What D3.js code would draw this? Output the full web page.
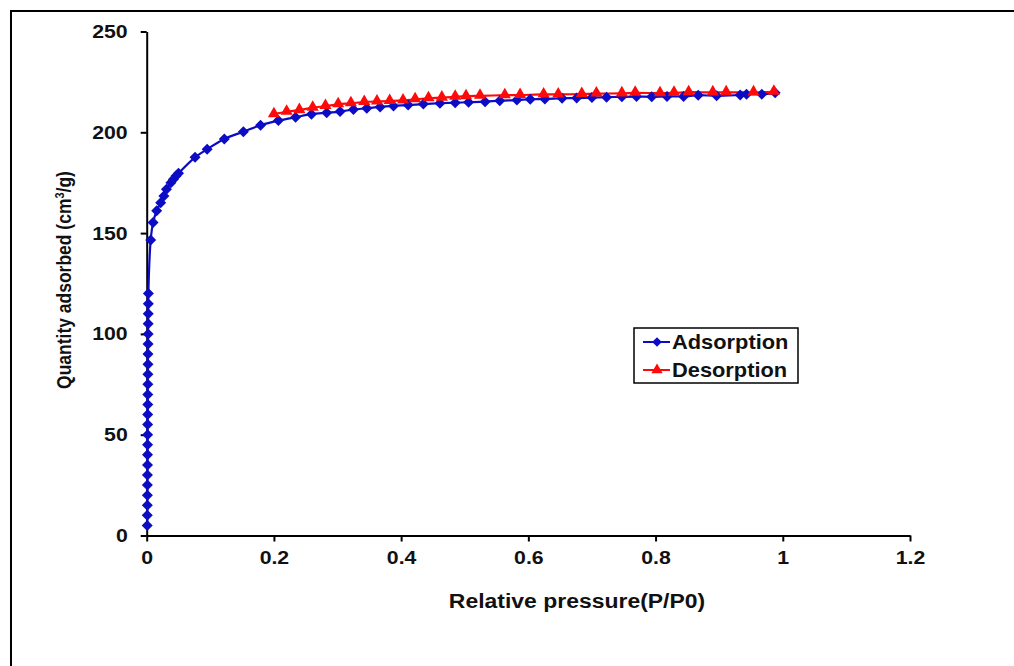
<!DOCTYPE html>
<html>
<head>
<meta charset="utf-8">
<script src="https://cdn.jsdelivr.net/npm/d3@7"></script>
<style>
  html, body { margin: 0; padding: 0; background: #fff; }
  svg { display: block; }
  text { font-family: "Liberation Sans", Arial, sans-serif; font-weight: bold; fill: #111; }
</style>
</head>
<body>
<svg id="chart" width="1014" height="666"></svg>
<script>
// Nitrogen isotherm: relative pressure (P/P0) and quantity adsorbed (cm3/g)
const adsorptionP = [
  0.0008, 0.0009, 0.0010, 0.0011, 0.0011, 0.0012, 0.0013, 0.0013, 0.0014, 0.0015,
  0.0015, 0.0016, 0.0017, 0.0017, 0.0018, 0.0019, 0.0020, 0.0020, 0.0021, 0.0022,
  0.0023, 0.0024, 0.0025, 0.0026,
  0.0063, 0.0100, 0.0157, 0.0220, 0.0270, 0.0310, 0.0380, 0.0420, 0.0460, 0.0500,
  0.076, 0.095, 0.122, 0.152, 0.179, 0.207, 0.234, 0.259, 0.283, 0.304,
  0.325, 0.346, 0.367, 0.388, 0.411, 0.435, 0.461, 0.485, 0.506, 0.532,
  0.555, 0.582, 0.603, 0.626, 0.653, 0.676, 0.700, 0.723, 0.747, 0.770,
  0.794, 0.818, 0.844, 0.867, 0.896, 0.933, 0.943, 0.967, 0.988
];
const adsorptionQ = [
  5, 10, 15, 20, 25, 30, 35, 40, 45, 50,
  55, 60, 65, 70, 75, 80, 85, 90, 95, 100,
  105, 110, 115, 120,
  146.6, 155.2, 161.1, 165.1, 168.4, 171.7, 175.0, 176.7, 178.3, 179.7,
  187.6, 191.6, 196.7, 200.3, 203.5, 205.8, 207.5, 209.0, 209.7, 210.3,
  211.3, 211.9, 212.6, 213.1, 213.5, 214.0, 214.4, 214.7, 214.9, 215.2,
  215.7, 216.0, 216.4, 216.5, 216.9, 217.0, 217.2, 217.4, 217.6, 217.7,
  217.6, 217.8, 217.8, 218.4, 218.1, 218.5, 218.9, 218.9, 219.6
];
const desorptionP = [
  0.986, 0.954, 0.911, 0.890, 0.852, 0.829, 0.807, 0.768, 0.747, 0.707,
  0.684, 0.647, 0.624, 0.587, 0.563, 0.524, 0.502, 0.485, 0.464, 0.443,
  0.422, 0.403, 0.382, 0.362, 0.342, 0.321, 0.301, 0.281, 0.261, 0.240,
  0.220, 0.200
];
const desorptionQ = [
  220.1, 219.8, 219.8, 219.8, 219.9, 219.6, 219.4, 219.6, 219.3, 219.2,
  219.0, 218.8, 218.8, 218.5, 218.4, 218.1, 217.9, 217.6, 217.2, 216.9,
  216.4, 215.8, 215.5, 215.3, 215.0, 214.4, 213.9, 213.0, 212.2, 211.0,
  210.2, 209.0
];
const xTicks = [0, 0.2, 0.4, 0.6, 0.8, 1, 1.2];
const yTicks = [0, 50, 100, 150, 200, 250];
const seriesNames = ["Adsorption", "Desorption"];

const BLUE = "#0c0cc4";
const RED = "#ff0a0a";
const STRETCH = 1.12; // glyphs are drawn slightly wide

const svg = d3.select("#chart");
svg.append("rect").attr("width", 1014).attr("height", 666).attr("fill", "#fff");
// outer frame (runs off the right and bottom edges)
svg.append("rect").attr("x", 11).attr("y", 11).attr("width", 1040).attr("height", 700)
  .attr("fill", "none").attr("stroke", "#000").attr("stroke-width", 2);

const x = d3.scaleLinear().domain([0, 1.2]).range([146.7, 910]);
const y = d3.scaleLinear().domain([0, 250]).range([535.5, 31.5]);

// axes
const gx = svg.append("g").attr("transform", `translate(0,${y(0)})`)
  .call(d3.axisBottom(x).tickValues(xTicks).tickSize(6).tickSizeOuter(0).tickPadding(9)
    .tickFormat(d => String(d)));
const gy = svg.append("g").attr("transform", `translate(${x(0)},0)`)
  .call(d3.axisLeft(y).tickValues(yTicks).tickSize(6).tickSizeOuter(0).tickPadding(13));
[gx, gy].forEach(g => {
  g.select(".domain").attr("stroke", "#000").attr("stroke-width", 2);
  g.selectAll(".tick line").attr("stroke", "#000").attr("stroke-width", 2);
  g.selectAll(".tick text").attr("font-size", 19).attr("fill", "#111")
    .style("font-family", "'Liberation Sans', Arial, sans-serif").style("font-weight", "bold");
});
gy.selectAll(".tick text").each(function () {
  const t = d3.select(this);
  const xx = +t.attr("x");
  t.attr("x", xx / STRETCH).attr("transform", `scale(${STRETCH},1)`);
});
gx.selectAll(".tick text").attr("transform", `scale(${STRETCH},1)`);

// axis titles
svg.append("text")
  .attr("transform", `translate(577,${608}) scale(${STRETCH},1)`)
  .attr("text-anchor", "middle").attr("font-size", 20.5)
  .text("Relative pressure(P/P0)");
const yt = svg.append("text")
  .attr("transform", `translate(71,280) rotate(-90) scale(1,${STRETCH})`)
  .attr("text-anchor", "middle").attr("font-size", 17.5);
yt.append("tspan").text("Quantity adsorbed (cm");
yt.append("tspan").attr("dy", -6).attr("font-size", 11).text("3");
yt.append("tspan").attr("dy", 6).text("/g)");

// series
const line = d3.line().x(d => x(d[0])).y(d => y(d[1])).curve(d3.curveCatmullRom.alpha(0.5));
const ads = adsorptionP.map((p, i) => [p, adsorptionQ[i]]);
const des = desorptionP.map((p, i) => [p, desorptionQ[i]]);

const diamond = r => `M0,${-r}L${r},0L0,${r}L${-r},0Z`;
const triangle = d3.symbol().type(d3.symbolTriangle).size(64);

svg.append("path").datum(ads).attr("d", line).attr("fill", "none")
  .attr("stroke", BLUE).attr("stroke-width", 2.2);
svg.append("path").datum(des).attr("d", line).attr("fill", "none")
  .attr("stroke", RED).attr("stroke-width", 2.2);

svg.append("g").selectAll("path").data(ads).join("path")
  .attr("transform", d => `translate(${x(d[0])},${y(d[1])})`)
  .attr("d", diamond(5.5)).attr("fill", BLUE);
svg.append("g").selectAll("path").data(des).join("path")
  .attr("transform", d => `translate(${x(d[0])},${y(d[1]) - 0.5})`)
  .attr("d", triangle).attr("fill", RED);

// legend
const lg = svg.append("g");
lg.append("rect").attr("x", 634).attr("y", 328).attr("width", 164).attr("height", 55)
  .attr("fill", "#fff").attr("stroke", "#000").attr("stroke-width", 1.5);
const rows = [
  { name: seriesNames[0], color: BLUE, y: 342, mark: diamond(4.8) },
  { name: seriesNames[1], color: RED, y: 370, mark: d3.symbol().type(d3.symbolTriangle).size(55)() }
];
rows.forEach(r => {
  lg.append("line").attr("x1", 643).attr("x2", 670).attr("y1", r.y).attr("y2", r.y)
    .attr("stroke", r.color).attr("stroke-width", 2);
  lg.append("path").attr("transform", `translate(657,${r.y})`).attr("d", r.mark).attr("fill", r.color);
  lg.append("text").attr("transform", `translate(672,${r.y + 7}) scale(${STRETCH},1)`)
    .attr("font-size", 19.5).text(r.name);
});
</script>
</body>
</html>
